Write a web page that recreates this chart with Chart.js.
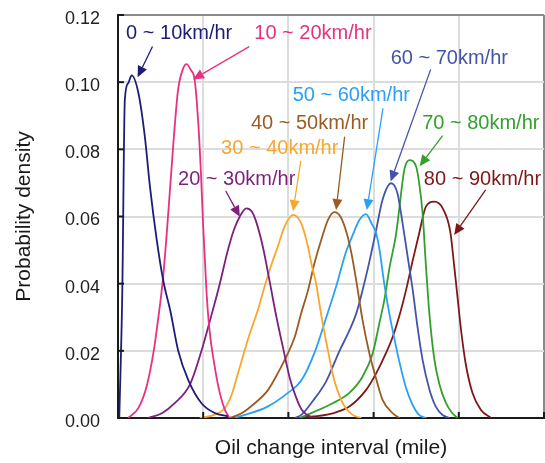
<!DOCTYPE html>
<html lang="en">
<head>
    <meta charset="UTF-8">
    <title>Oil change interval by speed</title>
    <script src="https://cdn.jsdelivr.net/npm/chart.js@4.4.1/dist/chart.umd.min.js"></script>
    <style>
        body {
            margin: 0;
            background-color: #ffffff;
        }
        #chart {
            display: block;
        }
    </style>
</head>
<body>
    <canvas id="chart" width="545" height="463"></canvas>

    <script>
        // x is in grid units (0-100, one vertical gridline every 20), y is probability density
        const speedLabels = ['0 ~ 10km/hr', '10 ~ 20km/hr', '20 ~ 30km/hr', '30 ~ 40km/hr', '40 ~ 50km/hr',
                             '50 ~ 60km/hr', '60 ~ 70km/hr', '70 ~ 80km/hr', '80 ~ 90km/hr'];
        const yTicks = [0, 0.02, 0.04, 0.06, 0.08, 0.10, 0.12];
        const xGrid = [0, 20, 40, 60, 80, 100];

        const x0to10 = [0.3, 1.0, 1.6, 2.4, 3.2, 4.8, 6.3, 7.5, 9.1, 10.6, 12.4, 14.1, 16.5, 19.6, 22.7, 25.8];
        const y0to10 = [0, 0.037, 0.0947, 0.0997, 0.102, 0.0967, 0.0838, 0.0689, 0.053, 0.0411, 0.0312, 0.0202, 0.0113, 0.0044, 0.0015, 0.0005];

        const x10to20 = [2.4, 4.8, 6.7, 8.3, 9.4, 10.6, 11.8, 13.0, 14.1, 15.3, 16.1, 17.1, 18.0, 18.8, 19.4, 20.0, 20.8, 21.5, 22.7, 23.9, 25.1, 26.2];
        const y10to20 = [0, 0.003, 0.0093, 0.0193, 0.0292, 0.042, 0.061, 0.0818, 0.0977, 0.1041, 0.1054, 0.1036, 0.1007, 0.0887, 0.0748, 0.057, 0.037, 0.026, 0.0153, 0.0074, 0.0024, 0];

        const x20to30 = [7.0, 10.3, 13.3, 16.9, 19.6, 21.8, 23.9, 25.8, 27.2, 28.6, 30.1, 31.4, 32.3, 34.0, 35.7, 37.2, 38.9, 40.3, 41.7, 43.1, 45.4, 47.3];
        const y20to30 = [0, 0.0014, 0.0044, 0.010, 0.020, 0.030, 0.040, 0.050, 0.056, 0.060, 0.0624, 0.0615, 0.059, 0.051, 0.040, 0.030, 0.020, 0.012, 0.0065, 0.0025, 0.0003, 0];

        const x30to40 = [19.2, 22.7, 25.1, 26.7, 28.1, 29.7, 30.9, 32.8, 34.6, 36.1, 37.5, 39.1, 41.1, 43.0, 44.6, 45.4, 46.5, 47.8, 49.3, 50.6, 51.5, 53.2, 55.0, 57.1];
        const y30to40 = [0, 0.001, 0.003, 0.007, 0.013, 0.020, 0.025, 0.032, 0.040, 0.046, 0.051, 0.057, 0.0605, 0.058, 0.051, 0.046, 0.040, 0.030, 0.020, 0.012, 0.0083, 0.0034, 0.001, 0];

        const x40to50 = [26.2, 29.0, 32.1, 35.2, 37.5, 39.9, 41.5, 43.0, 44.6, 46.1, 47.7, 49.3, 50.8, 52.2, 53.7, 54.8, 55.9, 57.4, 59.0, 60.6, 62.1, 64.5, 66.0];
        const y40to50 = [0, 0.0014, 0.0044, 0.0083, 0.0133, 0.0193, 0.0242, 0.0312, 0.038, 0.046, 0.053, 0.059, 0.0613, 0.060, 0.055, 0.049, 0.0411, 0.0292, 0.0193, 0.0117, 0.0054, 0.0014, 0];

        const x50to60 = [27.4, 35.1, 39.8, 43.1, 46.3, 48.9, 51.4, 53.4, 55.1, 56.7, 58.2, 59.5, 60.6, 61.4, 62.5, 63.7, 64.9, 66.0, 67.6, 69.2, 70.7, 72.4];
        const y50to60 = [0, 0.0034, 0.0074, 0.0113, 0.020, 0.030, 0.040, 0.049, 0.0545, 0.059, 0.0607, 0.058, 0.055, 0.050, 0.040, 0.031, 0.0235, 0.017, 0.009, 0.0038, 0.0009, 0];

        const x60to70 = [41.5, 43.1, 45.7, 48.9, 52.0, 54.3, 55.9, 57.4, 59.0, 60.6, 62.1, 64.1, 65.6, 66.8, 68.0, 69.2, 70.3, 71.5, 73.1, 74.6, 76.2, 77.8];
        const y60to70 = [0, 0.001, 0.005, 0.011, 0.020, 0.026, 0.031, 0.038, 0.0465, 0.056, 0.065, 0.0699, 0.0669, 0.058, 0.048, 0.038, 0.0272, 0.0173, 0.0085, 0.0034, 0.0009, 0];

        const x70to80 = [42.6, 50.4, 54.3, 57.4, 59.8, 61.4, 62.5, 63.7, 65.3, 66.0, 67.2, 68.4, 70.0, 70.7, 71.5, 72.3, 73.1, 74.2, 75.4, 77.0, 78.5, 79.7];
        const y70to80 = [0, 0.0044, 0.0075, 0.0123, 0.0193, 0.0285, 0.035, 0.0445, 0.055, 0.062, 0.0739, 0.0768, 0.0748, 0.0699, 0.061, 0.045, 0.031, 0.018, 0.0103, 0.0044, 0.0014, 0];

        const x80to90 = [42.6, 50.4, 54.3, 58.2, 60.6, 62.9, 64.5, 66.0, 67.6, 69.2, 70.7, 72.3, 74.2, 76.2, 78.0, 78.9, 79.7, 80.5, 81.6, 83.2, 85.2, 87.6];
        const y80to90 = [0, 0.0014, 0.0034, 0.0083, 0.0133, 0.0193, 0.0242, 0.0302, 0.038, 0.047, 0.055, 0.063, 0.0644, 0.0625, 0.0555, 0.0455, 0.036, 0.0265, 0.0163, 0.0075, 0.0024, 0];

        const lineColors = ['#1d1d78', '#e8317f', '#7d1f7d', '#f9a72b', '#9b5b22', '#2aa0f5', '#4454a8', '#33a02c', '#7e1818'];

        // where each label sits and where its arrow starts/ends (data units)
        const labelSpots = [
            { text: [1.9, 0.1144],  from: [8.1, 0.1106],  to: [4.6, 0.1015] },
            { text: [32.0, 0.1144], from: [30.8, 0.1106], to: [17.6, 0.1008] },
            { text: [14.1, 0.0709], from: [25.3, 0.0676], to: [28.6, 0.0599] },
            { text: [24.2, 0.0803], from: [42.9, 0.0766], to: [41.1, 0.0616] },
            { text: [31.2, 0.0878], from: [53.2, 0.0838], to: [51.2, 0.0619] },
            { text: [41.0, 0.0959], from: [62.2, 0.0922], to: [58.4, 0.0619] },
            { text: [64.0, 0.1070], from: [73.4, 0.1038], to: [64.0, 0.0704] },
            { text: [71.4, 0.0878], from: [76.2, 0.0841], to: [70.8, 0.0750] },
            { text: [71.8, 0.0711], from: [86.3, 0.0679], to: [78.9, 0.0545] }
        ];

        const seriesX = [x0to10, x10to20, x20to30, x30to40, x40to50, x50to60, x60to70, x70to80, x80to90];
        const seriesY = [y0to10, y10to20, y20to30, y30to40, y40to50, y50to60, y60to70, y70to80, y80to90];

        const datasets = speedLabels.map((name, i) => ({
            label: name,
            data: seriesX[i].map((x, j) => ({ x: x, y: seriesY[i][j] })),
            borderColor: lineColors[i],
            borderWidth: 1.8,
            pointRadius: 0,
            cubicInterpolationMode: 'monotone',
            fill: false
        }));

        const FONT = 'Helvetica, Arial, "Liberation Sans", sans-serif';

        // short tick marks pointing into the plot
        const innerTicks = {
            id: 'innerTicks',
            afterDatasetsDraw(chart) {
                const { ctx, chartArea: a, scales: { x, y } } = chart;
                ctx.save();
                ctx.strokeStyle = '#1a1a1a';
                ctx.lineWidth = 2;
                yTicks.forEach(v => {
                    const py = y.getPixelForValue(v);
                    ctx.beginPath();
                    ctx.moveTo(a.left, py);
                    ctx.lineTo(a.left + 6, py);
                    ctx.stroke();
                });
                xGrid.forEach(v => {
                    const px = x.getPixelForValue(v);
                    ctx.beginPath();
                    ctx.moveTo(px, a.bottom);
                    ctx.lineTo(px, a.bottom - 6);
                    ctx.stroke();
                });
                ctx.restore();
            }
        };

        // speed labels with arrows
        const speedNotes = {
            id: 'speedNotes',
            afterDatasetsDraw(chart) {
                const { ctx, scales: { x, y } } = chart;
                ctx.save();
                ctx.font = '20px ' + FONT;
                ctx.textBaseline = 'middle';
                ctx.textAlign = 'left';
                labelSpots.forEach((s, i) => {
                    const col = lineColors[i];
                    ctx.fillStyle = col;
                    ctx.strokeStyle = col;
                    ctx.fillText(speedLabels[i], x.getPixelForValue(s.text[0]), y.getPixelForValue(s.text[1]));

                    const x1 = x.getPixelForValue(s.from[0]), y1 = y.getPixelForValue(s.from[1]);
                    const x2 = x.getPixelForValue(s.to[0]), y2 = y.getPixelForValue(s.to[1]);
                    const ang = Math.atan2(y2 - y1, x2 - x1);
                    const headLen = 11, headW = 5;
                    const bx = x2 - headLen * Math.cos(ang), by = y2 - headLen * Math.sin(ang);

                    ctx.lineWidth = 1.3;
                    ctx.beginPath();
                    ctx.moveTo(x1, y1);
                    ctx.lineTo(bx, by);
                    ctx.stroke();

                    ctx.beginPath();
                    ctx.moveTo(x2, y2);
                    ctx.lineTo(bx + headW * Math.sin(ang), by - headW * Math.cos(ang));
                    ctx.lineTo(bx - headW * Math.sin(ang), by + headW * Math.cos(ang));
                    ctx.closePath();
                    ctx.fill();
                });
                ctx.restore();
            }
        };

        new Chart(document.getElementById('chart'), {
            type: 'line',
            data: { datasets: datasets },
            options: {
                responsive: false,
                animation: false,
                layout: { padding: { top: 15, right: 1, left: 0, bottom: 0 } },
                plugins: {
                    legend: { display: false },
                    tooltip: { enabled: false }
                },
                scales: {
                    x: {
                        type: 'linear',
                        min: 0,
                        max: 100,
                        afterBuildTicks: s => { s.ticks = xGrid.map(v => ({ value: v })); },
                        ticks: { display: false },
                        grid: {
                            color: ctx => ctx.tick && ctx.tick.value === 100 ? '#8a8a8a' : '#dcdcdc',
                            lineWidth: 2,
                            drawTicks: false
                        },
                        border: { color: '#1a1a1a', width: 2 },
                        title: {
                            display: true,
                            text: 'Oil change interval (mile)',
                            color: '#1a1a1a',
                            font: { family: FONT, size: 21 },
                            padding: { top: 0, bottom: 2 }
                        },
                        afterFit: s => { s.height = 45; s.paddingLeft = 0; s.paddingRight = 0; }
                    },
                    y: {
                        type: 'linear',
                        min: 0,
                        max: 0.12,
                        afterBuildTicks: s => { s.ticks = yTicks.map(v => ({ value: v })); },
                        ticks: {
                            callback: v => Number(v).toFixed(2),
                            color: '#222222',
                            font: { family: FONT, size: 18 },
                            padding: 18,
                            labelOffset: 4
                        },
                        grid: {
                            color: ctx => ctx.tick && ctx.tick.value === 0.12 ? '#8a8a8a' : '#dcdcdc',
                            lineWidth: 2,
                            drawTicks: false
                        },
                        border: { color: '#1a1a1a', width: 2 },
                        title: {
                            display: true,
                            text: 'Probability density',
                            color: '#1a1a1a',
                            font: { family: FONT, size: 21 },
                            padding: { top: 12, bottom: 0 }
                        },
                        afterFit: s => { s.width = 118; s.paddingTop = 0; s.paddingBottom = 0; }
                    }
                }
            },
            plugins: [innerTicks, speedNotes]
        });
    </script>
</body>
</html>
